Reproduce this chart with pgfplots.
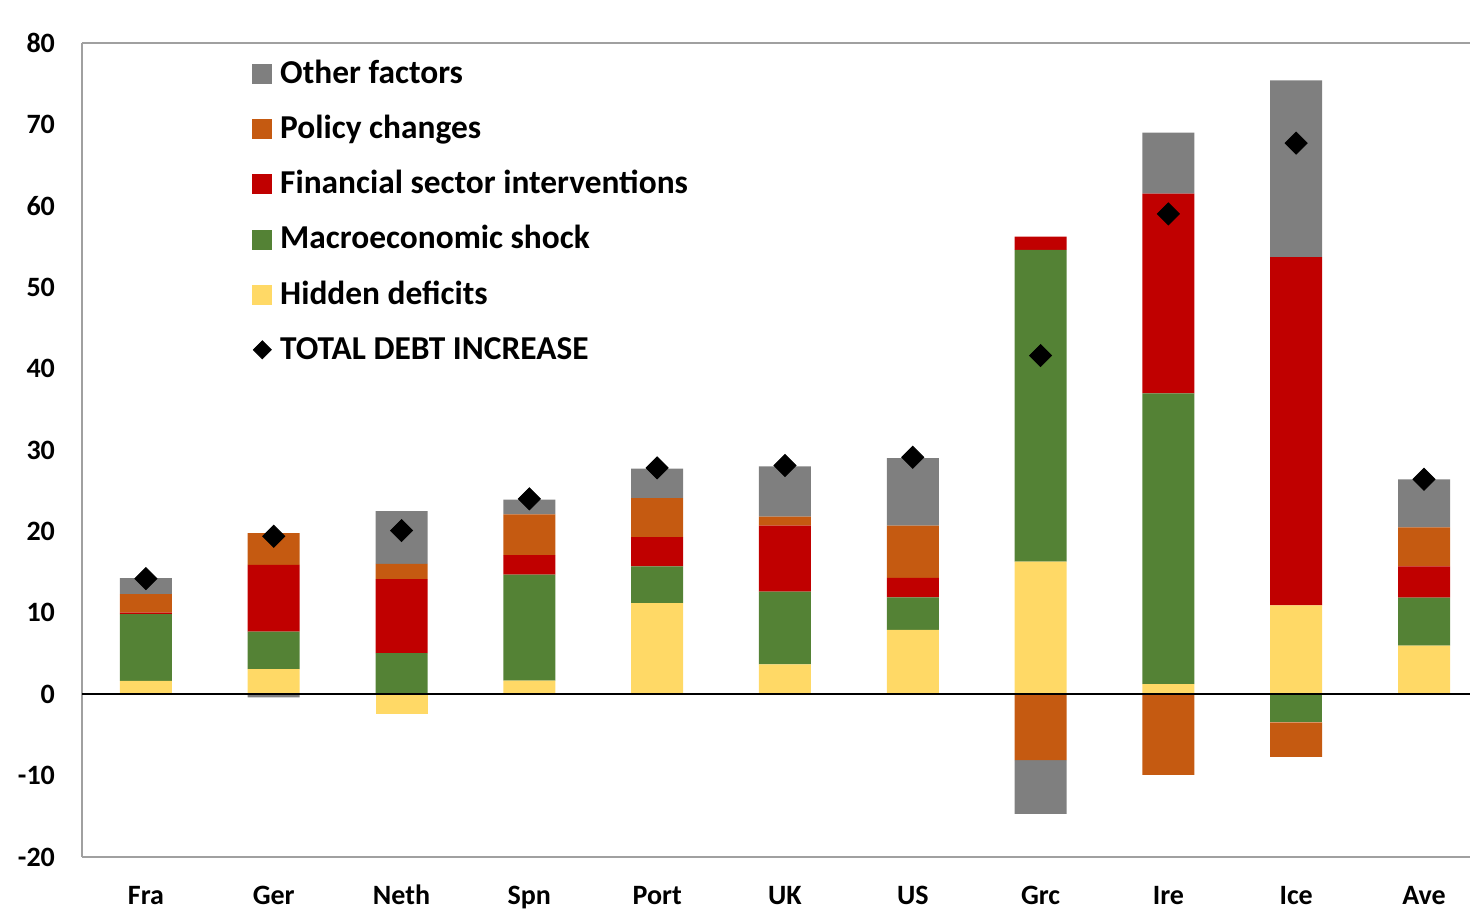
\documentclass[border=0pt]{standalone}
\usepackage{fontspec}
\setmainfont{Carlito}
\usepackage{pgfplots}
\usepackage{pgfplotstable}
\pgfplotsset{compat=1.18}

\definecolor{cOther}{HTML}{7F7F7F}
\definecolor{cPolicy}{HTML}{C55A11}
\definecolor{cFin}{HTML}{C00000}
\definecolor{cMacro}{HTML}{548235}
\definecolor{cHidden}{HTML}{FFD966}
\definecolor{cFrame}{HTML}{A0A0A0}

% positive parts (stacked upwards)
\pgfplotstableread{
x H M F P O
0 1.63 8.20 0.20 2.25 1.97
1 3.07 4.63 8.20 3.90 0.00
2 0.00 5.06 9.09 1.85 6.50
3 1.66 13.04 2.40 5.00 1.80
4 11.20 4.50 3.60 4.80 3.60
5 3.66 8.94 8.10 1.10 6.20
6 7.90 4.00 2.40 6.40 8.30
7 16.30 38.30 1.60 0.00 0.00
8 1.25 35.70 24.55 0.00 7.50
9 10.90 0.00 42.80 0.00 21.70
10 5.96 5.89 3.85 4.80 5.90
}\postab

% negative parts (stacked downwards)
\pgfplotstableread{
x H M F P O
0 0 0 0 0 0
1 0 0 0 0 -0.40
2 -2.43 0 0 0 0
3 0 0 0 0 0
4 0 0 0 0 0
5 0 0 0 0 0
6 0 0 0 0 0
7 0 0 0 -8.10 -6.60
8 0 0 0 -9.90 0
9 0 -3.46 0 -4.24 0
10 0 0 0 0 0
}\negtab

% total debt increase
\pgfplotstableread{
x T
0 14.2
1 19.4
2 20.1
3 24.0
4 27.8
5 28.1
6 29.1
7 41.6
8 59.0
9 67.7
10 26.4
}\tottab

\pgfplotsset{
  common/.style={
    scale only axis, width=694pt, height=407pt,
    xmin=-0.5, xmax=10.36, ymin=-20, ymax=80,
    at={(0pt,0pt)}, anchor=south west,
  },
  bars/.style={ybar stacked, bar width=26pt},
}

\begin{document}
\begin{tikzpicture}
% ---- positive stacks, frame, ticks, legend
\begin{axis}[common, bars,
  axis x line*=box, axis y line*=left,
  axis line style={draw=cFrame, line width=0.8pt},
  tick style={draw=none},
  ytick={-20,-10,...,80},
  xtick={0,...,10},
  xticklabels={Fra,Ger,Neth,Spn,Port,UK,US,Grc,Ire,Ice,Ave},
  /pgf/number format/assume math mode=true,
  ticklabel style={font=\fontsize{14}{16}\selectfont\bfseries},
  yticklabel style={xshift=-10pt},
  xticklabel style={yshift=-10.5pt, text height=9.5pt, text depth=0pt},
  legend cell align=left,
  legend style={draw=none, fill=none, inner sep=0pt,
    at={(axis description cs:0.1225,0.978)}, anchor=north west,
    font=\fontsize{16.7}{19}\selectfont\bfseries,
    row sep=13.1pt, column sep=2pt,
    nodes={text height=11pt, text depth=3.5pt, inner ysep=0pt}},
]
\addlegendimage{legend image code/.code={\fill[cOther] (0pt,-3.75pt) rectangle (9.5pt,5.75pt);}}
\addlegendimage{legend image code/.code={\fill[cPolicy] (0pt,-3.75pt) rectangle (9.5pt,5.75pt);}}
\addlegendimage{legend image code/.code={\fill[cFin] (0pt,-3.75pt) rectangle (9.5pt,5.75pt);}}
\addlegendimage{legend image code/.code={\fill[cMacro] (0pt,-3.75pt) rectangle (9.5pt,5.75pt);}}
\addlegendimage{legend image code/.code={\fill[cHidden] (0pt,-3.75pt) rectangle (9.5pt,5.75pt);}}
\addlegendimage{legend image code/.code={\fill[black] (0.25pt,1pt) -- (4.75pt,5.5pt) -- (9.25pt,1pt) -- (4.75pt,-3.5pt) -- cycle;}}
\legend{Other factors,Policy changes,Financial sector interventions,Macroeconomic shock,Hidden deficits,TOTAL DEBT INCREASE}
\addplot[forget plot, fill=cHidden, draw=none] table[x=x,y=H]{\postab};
\addplot[forget plot, fill=cMacro, draw=none] table[x=x,y=M]{\postab};
\addplot[forget plot, fill=cFin, draw=none] table[x=x,y=F]{\postab};
\addplot[forget plot, fill=cPolicy, draw=none] table[x=x,y=P]{\postab};
\addplot[forget plot, fill=cOther, draw=none] table[x=x,y=O]{\postab};
\end{axis}
% ---- negative stacks
\begin{axis}[common, bars, hide axis]
\addplot[fill=cHidden, draw=none] table[x=x,y=H]{\negtab};
\addplot[fill=cMacro, draw=none] table[x=x,y=M]{\negtab};
\addplot[fill=cFin, draw=none] table[x=x,y=F]{\negtab};
\addplot[fill=cPolicy, draw=none] table[x=x,y=P]{\negtab};
\addplot[fill=cOther, draw=none] table[x=x,y=O]{\negtab};
\end{axis}
% ---- zero line and totals
\begin{axis}[common, hide axis]
\addplot[black, line width=1pt] coordinates {(-0.5,0) (10.36,0)};
\addplot[only marks, mark=square*, mark size=3.9pt,
  mark options={rotate=45, fill=black, draw=none}] table[x=x,y=T]{\tottab};
\end{axis}
\pgfresetboundingbox
\path[use as bounding box] (-41pt,-26pt) rectangle (694pt,428.5pt);
\end{tikzpicture}
\end{document}
